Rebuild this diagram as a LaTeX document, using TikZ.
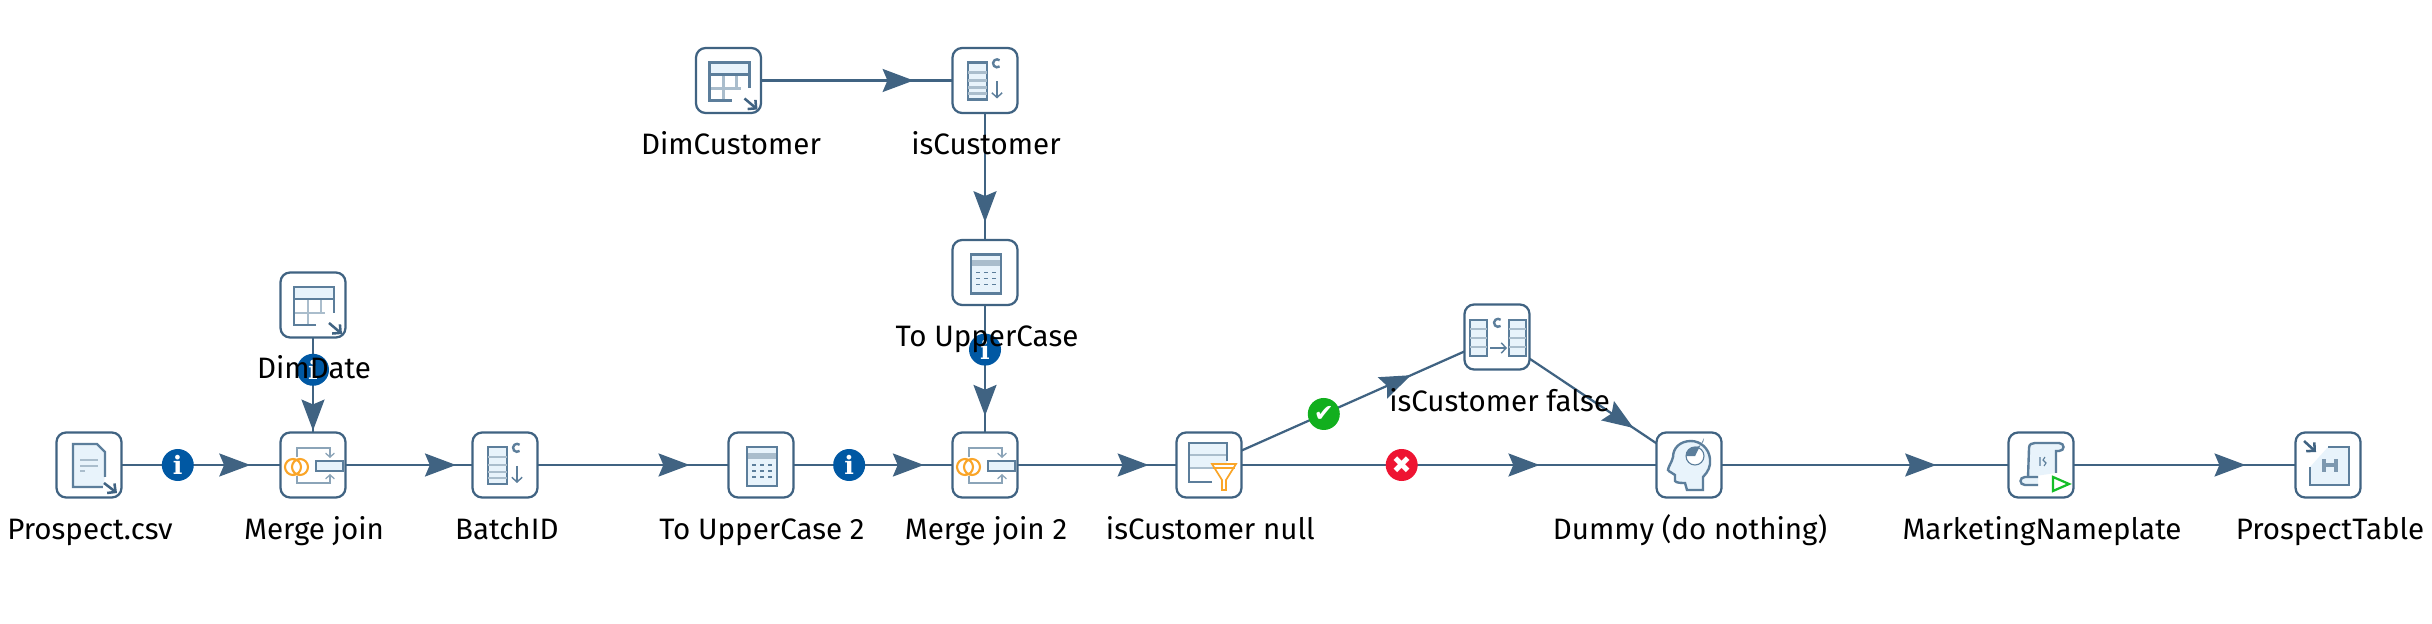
\documentclass[tikz,border=0pt]{standalone}
\usepackage{fontspec}
\setmainfont{Fira Sans}
\newfontfamily\badgefont{DejaVu Serif}
\newfontfamily\symbolfont{DejaVu Sans}
\usetikzlibrary{arrows.meta, decorations.markings}
\definecolor{hopblue}{RGB}{64, 99, 130}
\definecolor{iconblue}{RGB}{92, 126, 155}
\definecolor{iconpale}{RGB}{232, 243, 251}
\definecolor{icongrey}{RGB}{170, 189, 204}
\definecolor{joinorange}{RGB}{250, 165, 40}
\definecolor{infoblue}{RGB}{0, 88, 163}
\definecolor{okgreen}{RGB}{18, 175, 30}
\definecolor{failred}{RGB}{238, 20, 50}
\definecolor{playgreen}{RGB}{20, 190, 40}
\tikzset{
  every pic/.style={x=0.025cm, y=-0.025cm},
  stepbox/.style={draw=hopblue, fill=white, line width=1.6pt, rounded corners=0.24cm, minimum size=1.625cm, inner sep=0pt, outer sep=0pt},
  steplabel/.style={anchor=base, font=\fontsize{21}{25}\selectfont, text=black, inner sep=0pt},
  hop/.style={draw=hopblue, line width=1.6pt, postaction={decorate}, decoration={markings, mark=at position #1 with {\arrow{Stealth[length=7.75mm, width=5.75mm, inset=1.2mm]}}}},
  badge/.style={circle, minimum size=0.8cm, inner sep=0pt, text=white},
  infobadge/.style={badge, fill=infoblue, font=\badgefont\bfseries\fontsize{18}{18}\selectfont},
  okbadge/.style={badge, fill=okgreen, font=\symbolfont\fontsize{17}{17}\selectfont},
  failbadge/.style={badge, fill=failred, font=\symbolfont\fontsize{17}{17}\selectfont},
  iconline/.style={draw=iconblue, line width=1.7pt},
  iconthin/.style={draw=iconblue, line width=0.8pt},
  icongridline/.style={draw=icongrey, line width=1.5pt},
  iconarrow/.style={draw=hopblue, line width=1.8pt, -{Straight Barb[length=1.5mm, width=3mm]}},
  pics/tableicon/.style={code={
    \fill[iconpale] (-19,-18) rectangle (21,-6);
    \draw[icongridline] (-5,-6) -- (-5,20) (8,-6) -- (8,8) (-19,8) -- (12,8);
    \draw[iconline] (3,20) -- (-19,20) -- (-19,-18) -- (21,-18) -- (21,8);
    \draw[iconline] (-19,-6) -- (21,-6);
    \draw[iconarrow] (16,18) -- (29,29);
  }},
  pics/csvicon/.style={code={
    \draw[iconline, fill=iconpale] (14,22) -- (-16,22) -- (-16,-21) -- (8,-21) -- (16,-13) -- (16,12);
    \draw[icongridline] (-9,-5) -- (9,-5) (-9,1) -- (9,1) (-9,6) -- (-4,6);
    \draw[iconarrow] (15,18) -- (28,28);
  }},
  pics/selecticon/.style={code={
    \draw[iconline, fill=iconpale] (-17,-18) rectangle (2,19);
    \draw[icongridline] (-17,-8) -- (2,-8) (-17,0) -- (2,0) (-17,7) -- (2,7) (-17,13) -- (2,13);
    \draw[iconline] (14.6,-14.1) arc (50:310:4);
    \draw[iconblue, line width=1pt, -{Straight Barb[length=1.2mm, width=2.6mm]}] (12,1) -- (12,18);
  }},
  pics/calcicon/.style={code={
    \draw[iconline, fill=iconpale] (-14,-18) rectangle (16,21);
    \fill[icongrey] (-13,-12) rectangle (15,-6);
    \foreach \rowy in {0,6,12} {
      \foreach \colx in {-7,1,9} {
        \draw[iconblue, line width=0.9pt] (\colx-2,\rowy) -- (\colx+2,\rowy);
      }
    }
  }},
  pics/joinicon/.style={code={
    \draw[joinorange, line width=1.5pt] (-20,2) circle (8) (-13,2) circle (8);
    \draw[iconline, fill=iconpale] (3,-4) rectangle (30,6);
    \draw[icongrey!60!iconblue, line width=0.9pt, -{Straight Barb[length=1mm, width=2.2mm]}] (-16,-8) -- (-16,-17) -- (17,-17) -- (17,-7);
    \draw[icongrey!60!iconblue, line width=0.9pt, -{Straight Barb[length=1mm, width=2.2mm]}] (-16,11) -- (-16,18) -- (17,18) -- (17,9);
  }},
  pics/filtericon/.style={code={
    \fill[iconpale] (-20,-22) rectangle (18,3);
    \draw[icongrey, line width=2pt] (-19,-10) -- (17,-10) (-19,3) -- (5,3);
    \draw[iconline] (3,17) -- (-20,17) -- (-20,-22) -- (18,-22) -- (18,-4);
    \draw[joinorange, line width=1.2pt, fill=white] (3,-1) -- (27,-1) -- (17,15) -- (17,25) -- (13,25) -- (13,15) -- cycle;
    \draw[joinorange, line width=1pt] (4,3) -- (26,3);
  }},
  pics/mappericon/.style={code={
    \draw[iconline, fill=iconpale] (-27,-17) rectangle (-10,19);
    \draw[iconline, fill=iconpale] (12,-17) rectangle (29,19);
    \draw[icongridline] (-27,-8) -- (-10,-8) (-27,1) -- (-10,1) (-27,10) -- (-10,10);
    \draw[icongridline] (12,-8) -- (29,-8) (12,1) -- (29,1) (12,10) -- (29,10);
    \draw[iconline] (3.6,-11.1) arc (50:310:4);
    \draw[iconblue, line width=1pt, -{Straight Barb[length=1.2mm, width=2.6mm]}] (-7,11) -- (10,11);
  }},
  pics/dummyicon/.style={code={
    \draw[iconline, fill=iconpale] (14,25) -- (14,12) .. controls (19,7) and (22,1) .. (21,-6) .. controls (20,-17) and (11,-24) .. (2,-24) .. controls (-9,-24) and (-16,-17) .. (-16,-8) .. controls (-17,-3) and (-21,2) .. (-21,5) .. controls (-20,7) and (-16,8) .. (-14,10) -- (-14,16) .. controls (-13,18) and (-7,18) .. (-4,18) -- (-2,25) -- cycle;
    \draw[iconthin, fill=white] (6,-9) circle (9);
    \fill[iconblue] (6,-9) -- (6,-18) arc (90:0:9) -- cycle;
    \fill[iconblue] (6,-9) -- (-3,-9) arc (180:270:9) -- cycle;
  }},
  pics/scripticon/.style={code={
    \draw[iconline, fill=iconpale] (-13,12) -- (-12,-17) .. controls (-12,-21) and (-9,-22) .. (-6,-22) -- (18,-22) .. controls (24,-22) and (24,-14) .. (18,-14) -- (15,-14) -- (15,8);
    \draw[iconline, fill=iconpale] (-3,20) -- (-16,20) .. controls (-22,20) and (-22,12) .. (-16,12) -- (-3,12);
    \draw[iconblue, line width=0.8pt] (-1,-8) -- (-1,1) (4,-8) -- (2,-5) -- (5,-2) -- (3,1);
    \draw[playgreen, line width=1.6pt] (12,12) -- (12,26) -- (28,19) -- cycle;
  }},
  pics/outputicon/.style={code={
    \draw[iconline, fill=iconpale] (0,-18) -- (21,-18) -- (21,20) -- (-18,20) -- (-18,2);
    \draw[iconblue!80, line width=2.2pt] (-4,-6) -- (-4,7) (8,-6) -- (8,7) (-4,0) -- (8,0);
    \draw[iconarrow] (-24,-24) -- (-12,-13);
  }}
}

\begin{document}
\begin{tikzpicture}
  \useasboundingbox (0,0) rectangle (60.8,-15.6);

  % steps
  \node[stepbox] (prospectcsv) at (2.225, -11.625) {};
  \node[stepbox] (dimdate) at (7.825, -7.625) {};
  \node[stepbox] (mergejoin) at (7.825, -11.625) {};
  \node[stepbox] (batchid) at (12.625, -11.625) {};
  \node[stepbox] (dimcustomer) at (18.2125, -2.0125) {};
  \node[stepbox] (iscustomer) at (24.625, -2.0125) {};
  \node[stepbox] (touppercase) at (24.625, -6.8125) {};
  \node[stepbox] (touppercasetwo) at (19.025, -11.625) {};
  \node[stepbox] (mergejointwo) at (24.625, -11.625) {};
  \node[stepbox] (iscustomernull) at (30.225, -11.625) {};
  \node[stepbox] (iscustomerfalse) at (37.425, -8.425) {};
  \node[stepbox] (dummy) at (42.225, -11.625) {};
  \node[stepbox] (nameplate) at (51.025, -11.625) {};
  \node[stepbox] (prospecttable) at (58.2, -11.625) {};

  % step icons
  \pic at (prospectcsv.center) {csvicon};
  \pic at (dimdate.center) {tableicon};
  \pic at (mergejoin.center) {joinicon};
  \pic at (batchid.center) {selecticon};
  \pic at (dimcustomer.center) {tableicon};
  \pic at (iscustomer.center) {selecticon};
  \pic at (touppercase.center) {calcicon};
  \pic at (touppercasetwo.center) {calcicon};
  \pic at (mergejointwo.center) {joinicon};
  \pic at (iscustomernull.center) {filtericon};
  \pic at (iscustomerfalse.center) {mappericon};
  \pic at (dummy.center) {dummyicon};
  \pic at (nameplate.center) {scripticon};
  \pic at (prospecttable.center) {outputicon};

  % hops
  \draw[hop=0.81] (prospectcsv) -- node[infobadge, pos=0.354] (infoprospect) {i} (mergejoin);
  \draw[hop=0.98] (dimdate) -- node[infobadge, pos=0.34] (infodate) {i} (mergejoin);
  \draw[hop=0.87] (mergejoin) -- (batchid);
  \draw[hop=0.796] (batchid) -- (touppercasetwo);
  \draw[hop=0.82] (touppercasetwo) -- node[infobadge, pos=0.35] (infoupper) {i} (mergejointwo);
  \draw[hop=0.797] (dimcustomer) -- (iscustomer);
  \draw[hop=0.86] (iscustomer) -- (touppercase);
  \draw[hop=0.87] (touppercase) -- node[infobadge, pos=0.35] (infomerge) {i} (mergejointwo);
  \draw[hop=0.825] (mergejointwo) -- (iscustomernull);
  \draw[hop=0.76] (iscustomernull) -- node[okbadge, pos=0.369] (oktrue) {✔} (iscustomerfalse);
  \draw[hop=0.718] (iscustomernull) -- node[failbadge, pos=0.386] (failfalse) {✖} (dummy);
  \draw[hop=0.82] (iscustomerfalse) -- (dummy);
  \draw[hop=0.748] (dummy) -- (nameplate);
  \draw[hop=0.775] (nameplate) -- (prospecttable);

  % step names
  \node[steplabel] (prospectcsvname) at (2.25, -13.475) {Prospect.csv};
  \node[steplabel] (dimdatename) at (7.85, -9.475) {DimDate};
  \node[steplabel] (mergejoinname) at (7.85, -13.475) {Merge join};
  \node[steplabel] (batchidname) at (12.67, -13.475) {BatchID};
  \node[steplabel] (dimcustomername) at (18.275, -3.875) {DimCustomer};
  \node[steplabel] (iscustomername) at (24.65, -3.875) {isCustomer};
  \node[steplabel] (touppercasename) at (24.675, -8.675) {To UpperCase};
  \node[steplabel] (touppercasetwoname) at (19.05, -13.475) {To UpperCase 2};
  \node[steplabel] (mergejointwoname) at (24.65, -13.475) {Merge join 2};
  \node[steplabel] (iscustomernullname) at (30.26, -13.475) {isCustomer null};
  \node[steplabel] (iscustomerfalsename) at (37.49, -10.3) {isCustomer false};
  \node[steplabel] (dummyname) at (42.25, -13.475) {Dummy (do nothing)};
  \node[steplabel] (nameplatename) at (51.05, -13.475) {MarketingNameplate};
  \node[steplabel] (prospecttablename) at (58.25, -13.475) {ProspectTable};
\end{tikzpicture}
\end{document}
